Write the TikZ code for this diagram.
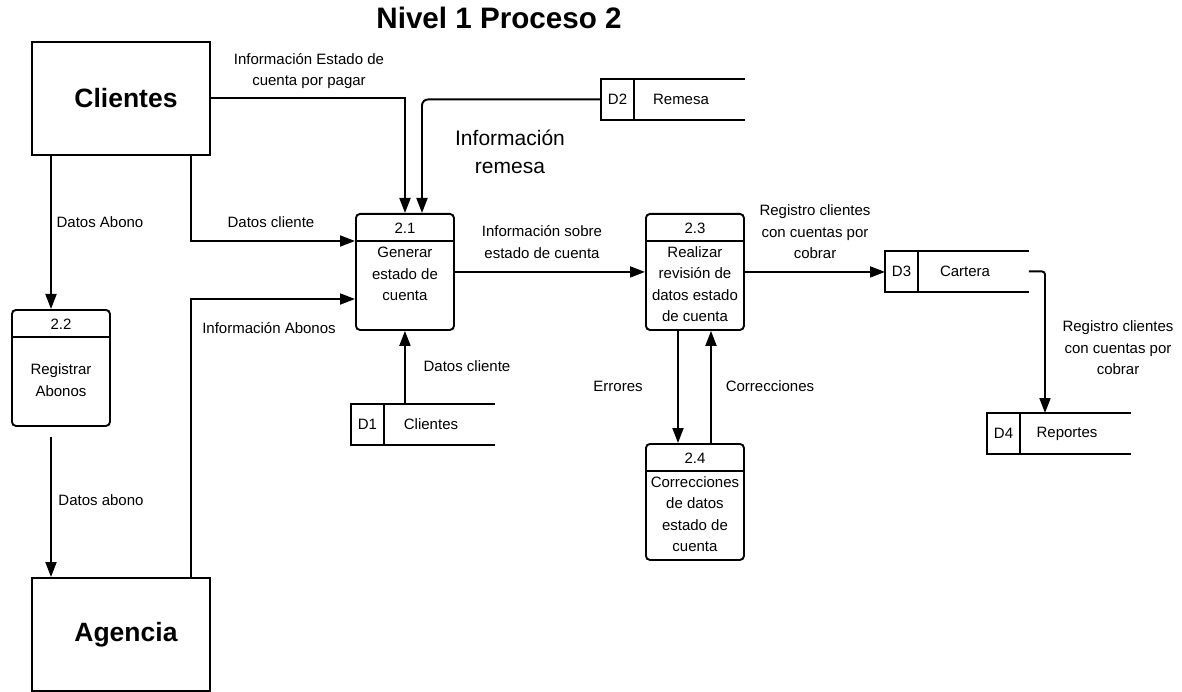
\documentclass[tikz,border=0pt]{standalone}
\usepackage{fontspec}
\setmainfont{Liberation Sans}
\usetikzlibrary{arrows.meta,positioning}

\begin{document}
\begin{tikzpicture}[x=1pt,y=-1pt,line width=1.9pt,
 font=\fontsize{15}{21.5}\selectfont,>={Triangle[length=15pt,width=11pt]},
 entity/.style={draw,minimum width=178pt,minimum height=113pt,anchor=north west,inner sep=0pt,
   font=\fontsize{26.5}{30}\selectfont\bfseries},
 proc/.style={draw,rounded corners=4pt,minimum width=98pt,minimum height=116pt,anchor=north west,inner sep=0pt},
 store/.style={minimum width=142pt,minimum height=39pt,anchor=north west,inner sep=0pt},
 body/.style={align=center,inner sep=0pt},
 tag/.style={align=center,inner sep=0pt},
 flow/.style={->}]
\useasboundingbox (0,0) rectangle (1182,692);

\node[font=\fontsize{29.6}{34}\selectfont\bfseries] (title) at (499,18) {Nivel 1 Proceso 2};

% external entities
\node[entity] (cli) at (31,41) {\hspace*{10pt}Clientes};
\node[entity] (age) at (31,577) {\hspace*{10pt}Agencia};

% processes
\foreach \id/\num/\x/\y/\off/\txt in {p21/2.1/355/213/61/{Generar\\estado de\\cuenta},
  p22/2.2/11/309/71/{Registrar\\Abonos},
  p23/2.3/645/213/71/{Realizar\\revisión de\\datos estado\\de cuenta},
  p24/2.4/645/443/71/{Correcciones\\de datos\\estado de\\cuenta}} {
  \node[proc] (\id) at (\x,\y) {};
  \node at ([yshift=-15pt]\id.north) {\num};
  \draw ([yshift=-28pt]\id.north west) -- ([yshift=-28pt]\id.north east);
  \node[body] at ([yshift=-\off pt]\id.north) {\txt};
}

% data stores
\foreach \id/\name/\x/\y in {D1/Clientes/351/404, D2/Remesa/601/79, D3/Cartera/885/251, D4/Reportes/987/413} {
  \node[store] (\id) at (\x,\y) {};
  \draw (\id.north east) -- (\id.north west) -- (\id.south west) -- (\id.south east);
  \draw ([xshift=33pt]\id.north west) -- ([xshift=33pt]\id.south west);
  \node at ([xshift=16.5pt]\id.west) {\id};
  \node at ([xshift=80pt]\id.west) {\name};
}

% flows
\draw[flow] ([xshift=20pt]cli.south west) -- ([xshift=20pt]cli.south west |- p22.north);
\draw[flow,shorten <=10pt] ([xshift=40pt]p22.south west) -- ([xshift=40pt]p22.south west |- age.north);
\draw[flow] (cli.east) -| ([xshift=50pt]p21.north west);
\draw[flow,rounded corners=6pt] (D2.west) -| ([xshift=67pt]p21.north west);
\draw[flow] ([xshift=160pt]cli.south west) |- ([yshift=-28pt]p21.north west);
\draw[flow] ([xshift=160pt]age.north west) |- ([yshift=-86pt]p21.north west);
\draw[flow] (D1.north -| p21.south) -- (p21.south);
\draw[flow] (p21.east) -- (p23.west);
\draw[flow] (p23.east) -- (p23.east -| D3.west);
\draw[flow] ([xshift=33pt]p23.south west) -- ([xshift=33pt]p23.south west |- p24.north);
\draw[flow] ([xshift=66pt]p24.north west) -- ([xshift=66pt]p24.north west |- p23.south);
\draw[flow,rounded corners=3pt] (D3.east) -| ([xshift=58pt]D4.north west);

% flow labels
\node[tag] (lestado) at (309,71) {Información Estado de\\cuenta por pagar};
\node[tag] (labono) at (100,222) {Datos Abono};
\node[tag] (lcli) at (271,222) {Datos cliente};
\node[tag] (labonos) at (269,328) {Información Abonos};
\node[tag,font=\fontsize{21}{28}\selectfont] (lremesa) at (510,152) {Información\\remesa};
\node[tag] (lsobre) at (542,242) {Información sobre\\estado de cuenta};
\node[tag] (lcli2) at (467,366) {Datos cliente};
\node[tag] (labono2) at (101,500) {Datos abono};
\node[tag] (lerr) at (618,386) {Errores};
\node[tag] (lcorr) at (770,386) {Correcciones};
\node[tag] (lreg) at (815,232) {Registro clientes\\con cuentas por\\cobrar};
\node[tag] (lreg2) at (1118,348) {Registro clientes\\con cuentas por\\cobrar};
\end{tikzpicture}
\end{document}
